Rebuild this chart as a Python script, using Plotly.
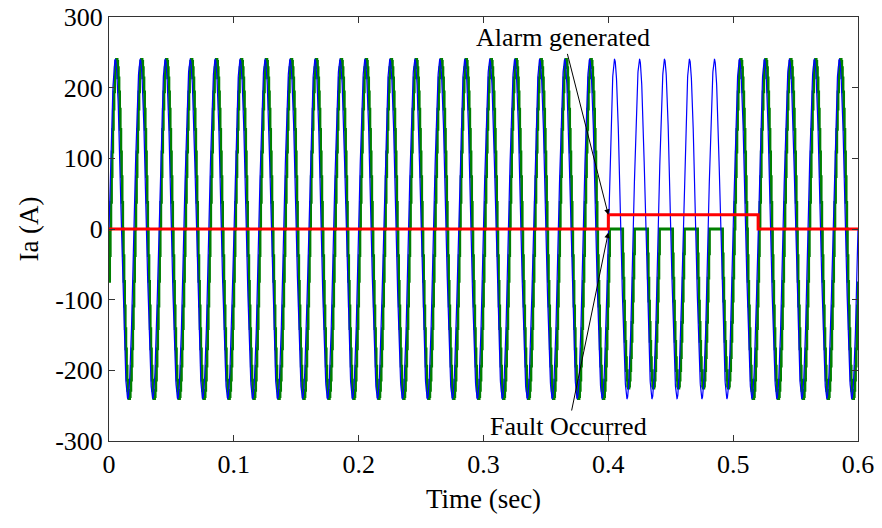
import numpy as np
import plotly.graph_objects as go

# ---- data ----
freq_hz = 50
t_end = 0.6
# per-cycle peak values (A) of the reference current (blue)
blue_pos_peaks = [240, 240, 240, 240, 240, 240, 240, 240, 240, 240,
                  240, 240, 240, 240, 240, 240, 240, 240, 240, 240,
                  240, 240, 240, 240, 240, 240, 240, 240, 240, 240]
blue_neg_peaks = [240, 240, 240, 240, 240, 240, 240, 240, 240, 240,
                  240, 240, 240, 240, 240, 240, 240, 240, 240, 240,
                  240, 240, 240, 240, 240, 240, 240, 240, 240, 240]
# per-cycle peak values (A) of the measured current (green); fault cycles 0.4-0.5 s
green_pos_peaks = [240, 240, 240, 240, 240, 240, 240, 240, 240, 240,
                   240, 240, 240, 240, 240, 240, 240, 240, 240, 240,
                   0, 0, 0, 0, 0, 240, 240, 240, 240, 240]
green_neg_peaks = [240, 240, 240, 240, 240, 240, 240, 240, 240, 240,
                   240, 240, 240, 240, 240, 240, 240, 240, 240, 240,
                   225, 225, 225, 225, 225, 240, 240, 240, 240, 240]
green_delay_s = 0.001
green_sample_s = 0.0005
# alarm signal (red)
alarm_t = [0, 0.4, 0.4, 0.52, 0.52, 0.6]
alarm_v = [0, 0, 20, 20, 0, 0]

y_ticks = [-300, -200, -100, 0, 100, 200, 300]
x_ticks = [0, 0.1, 0.2, 0.3, 0.4, 0.5, 0.6]


def wave(t, pos, neg):
    t = np.asarray(t)
    k = np.clip(np.floor(np.clip(t, 0, None) * freq_hz).astype(int), 0, len(pos) - 1)
    s = np.sin(2 * np.pi * freq_hz * t)
    p = np.array(pos)[k]
    n = np.array(neg)[k]
    return np.where(s >= 0, p * s, n * s)


t_blue = np.linspace(0, t_end, 6001)
y_blue = wave(t_blue, blue_pos_peaks, blue_neg_peaks)

ts = np.arange(0, t_end + 1e-12, green_sample_s)
gs = wave(ts - green_delay_s, green_pos_peaks, green_neg_peaks)
# zero-order hold
t_green = np.repeat(ts, 2)[1:]
y_green = np.repeat(gs, 2)[:-1]
t_green = np.append(t_green, t_end)
y_green = np.append(y_green, gs[-1])

fig = go.Figure()
fig.add_trace(go.Scatter(x=t_green, y=y_green, mode="lines",
                         line=dict(color="rgb(0,128,0)", width=2.8), showlegend=False))
fig.add_trace(go.Scatter(x=t_blue, y=y_blue, mode="lines",
                         line=dict(color="rgb(0,0,255)", width=1.2), showlegend=False))
fig.add_trace(go.Scatter(x=alarm_t, y=alarm_v, mode="lines",
                         line=dict(color="rgb(255,0,0)", width=3), showlegend=False))

font = "Liberation Serif, Times New Roman, serif"
fig.add_annotation(x=0.4, y=20, ax=-45, ay=-177, text="Alarm generated",
                   showarrow=True, arrowhead=2, arrowsize=1.1, arrowwidth=1,
                   arrowcolor="black", font=dict(family=font, size=26, color="black"))
fig.add_annotation(x=0.4, y=-5, ax=-40, ay=194, text="Fault Occurred",
                   showarrow=True, arrowhead=2, arrowsize=1.1, arrowwidth=1,
                   arrowcolor="black", font=dict(family=font, size=26, color="black"))

axis_common = dict(showline=True, linecolor="#333333", linewidth=1, mirror="ticks",
                   ticks="inside", ticklen=6, tickcolor="#333333", showgrid=False,
                   zeroline=False, automargin=False, ticklabeloverflow="allow",
                   tickfont=dict(family=font, size=26, color="black"))
fig.update_xaxes(range=[0, t_end], tickvals=x_ticks, ticktext=[str(v) for v in x_ticks],
                 title=dict(text="Time (sec)", font=dict(family=font, size=27, color="black"),
                            standoff=10), **axis_common)
fig.update_yaxes(range=[-300, 300], tickvals=y_ticks, ticktext=[str(v) for v in y_ticks],
                 title=dict(text="Ia (A)", font=dict(family=font, size=27, color="black"),
                            standoff=8), **axis_common)
fig.update_layout(width=882, height=528, margin=dict(l=109, r=24, t=17, b=87),
                  plot_bgcolor="white", paper_bgcolor="white")
fig.write_html("out.html", config={"displayModeBar": False},
               post_script="document.body.style.margin='0';")
